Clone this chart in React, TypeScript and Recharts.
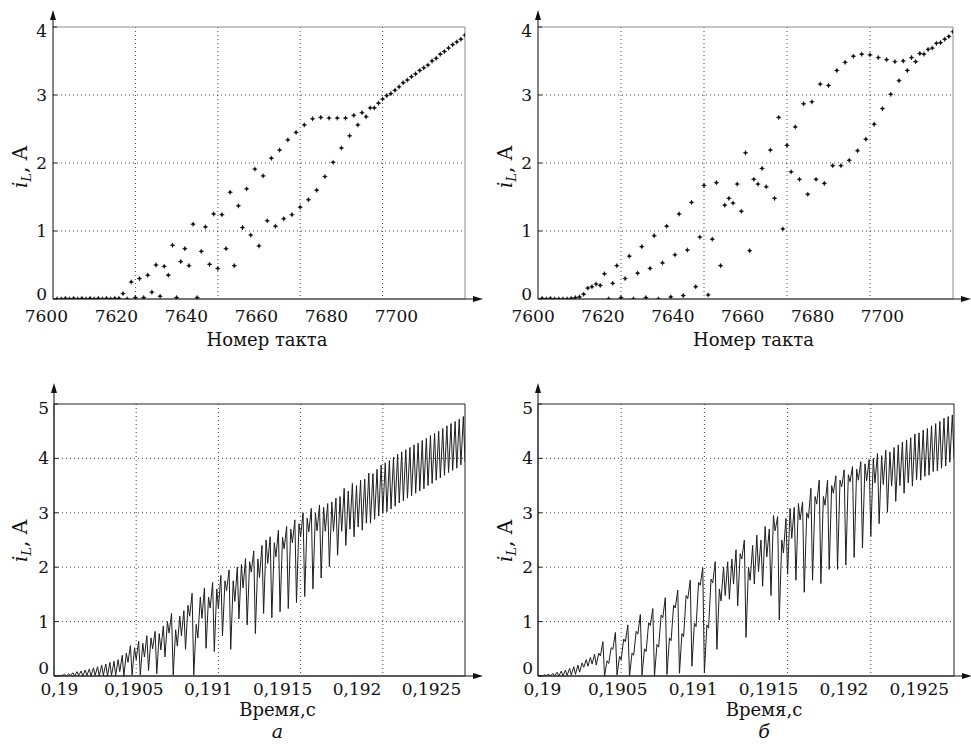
import React from "react";
import {
  ScatterChart,
  Scatter,
  LineChart,
  Line,
  XAxis,
  YAxis,
  CartesianGrid,
  ReferenceArea,
} from "recharts";

const FONT = '"DejaVu Serif", "Liberation Serif", serif';
const INK = "#111";

// tick labels as printed on the figure
const tactLabels = [7600, 7620, 7640, 7660, 7680, 7700];
const timeLabels = [0.19, 0.1905, 0.191, 0.1915, 0.192, 0.1925];
// grid lines sit every 20 tacts (they do not line up with the printed labels)
const gridTicks = [20, 40, 60, 80];
const topCurrentTicks = [0, 1, 2, 3, 4];
const bottomCurrentTicks = [0, 1, 2, 3, 4, 5];

// inductor current sampled once per tact, tacts 1..100 (panel a)
const samplesA = [
  0, 0, 0.01, 0, 0.01, 0, 0.01, 0, 0.01, 0, 0.01, 0, 0.01, 0, 0.01, 0.01,
  0.08, 0, 0.25, 0.02, 0.3, 0.02, 0.35, 0.1, 0.5, 0.04, 0.48, 0.35, 0.79, 0.02,
  0.55, 0.74, 0.49, 1.1, 0.02, 0.7, 1.06, 0.51, 1.25, 0.45,
  1.24, 0.74, 1.57, 0.49, 1.37, 1.05, 1.62, 0.94, 1.91, 0.78,
  1.81, 1.15, 2.07, 1.07, 2.19, 1.18, 2.34, 1.24, 2.45, 1.35,
  2.56, 1.46, 2.65, 1.6, 2.67, 1.8, 2.66, 2.01, 2.66, 2.22,
  2.66, 2.4, 2.7, 2.56, 2.74, 2.68, 2.81, 2.81, 2.88, 2.94,
  2.99, 3.02, 3.07, 3.12, 3.18, 3.22, 3.27, 3.31, 3.36, 3.4,
  3.44, 3.5, 3.54, 3.6, 3.64, 3.69, 3.74, 3.78, 3.82, 3.88,
];

// same for panel б
const samplesB = [
  0.01, 0, 0.01, 0, 0, 0, 0, 0.01, 0.02, 0.03,
  0.07, 0.16, 0.18, 0.22, 0.2, 0.37, 0, 0.23, 0.49, 0.02,
  0.3, 0.63, 0, 0.38, 0.77, 0.02, 0.45, 0.93, 0, 0.53,
  1.07, 0.03, 0.65, 1.25, 0.05, 0.72, 1.42, 0.18, 0.91, 1.67,
  0.06, 0.88, 1.71, 0.49, 1.38, 1.48, 1.41, 1.69, 1.29, 2.15,
  0.71, 1.76, 1.69, 1.92, 1.65, 2.19, 1.48, 2.67, 1.03, 2.26,
  1.87, 2.53, 1.76, 2.87, 1.54, 2.9, 1.76, 3.16, 1.7, 3.14,
  1.96, 3.36, 1.96, 3.48, 2.04, 3.57, 2.18, 3.6, 2.35, 3.59,
  2.57, 3.55, 2.8, 3.52, 3.01, 3.49, 3.21, 3.5, 3.36, 3.55,
  3.49, 3.61, 3.6, 3.67, 3.69, 3.76, 3.77, 3.82, 3.86, 3.93,
];

// peak current inside each tact on the time traces (the valleys are the samples above)
const peaksA = [
  0, 0.01, 0.03, 0.04, 0.06, 0.08, 0.09, 0.11, 0.13, 0.15,
  0.17, 0.2, 0.22, 0.25, 0.27, 0.3, 0.38, 0.42, 0.56, 0.52,
  0.64, 0.6, 0.74, 0.7, 0.82, 0.78, 0.92, 1.0, 1.15, 0.85,
  1.1, 1.2, 1.3, 1.52, 0.95, 1.45, 1.62, 1.45, 1.72, 1.6,
  1.85, 1.75, 1.95, 1.75, 2.0, 2.05, 2.16, 2.1, 2.3, 2.15,
  2.4, 2.5, 2.56, 2.45, 2.68, 2.55, 2.75, 2.7, 2.87, 2.8,
  3.0, 2.9, 3.08, 3.0, 3.14, 3.1, 3.17, 3.2, 3.27, 3.3,
  3.45, 3.4, 3.54, 3.5, 3.6, 3.62, 3.73, 3.72, 3.8, 3.88,
  3.92, 3.96, 4.02, 4.08, 4.12, 4.16, 4.2, 4.25, 4.28, 4.33,
  4.37, 4.42, 4.46, 4.5, 4.55, 4.6, 4.64, 4.68, 4.72, 4.77,
];

const peaksB = [
  0.01, 0.02, 0.03, 0.05, 0.07, 0.09, 0.11, 0.14, 0.17, 0.2,
  0.24, 0.3, 0.34, 0.4, 0.42, 0.63, 0.28, 0.52, 0.8, 0.36,
  0.68, 0.94, 0.42, 0.82, 1.13, 0.5, 0.98, 1.24, 0.58, 1.12,
  1.44, 0.7, 1.3, 1.58, 0.78, 1.48, 1.76, 0.97, 1.72, 1.99,
  0.94, 1.78, 2.1, 1.6, 2.0, 2.1, 2.15, 2.32, 2.25, 2.5,
  2.0, 2.4, 2.59, 2.5, 2.75, 2.7, 2.95, 2.93, 2.5, 2.9,
  3.08, 3.1, 3.17, 3.2, 3.0, 3.45, 3.3, 3.6, 3.3, 3.6,
  3.5, 3.68, 3.6, 3.79, 3.7, 3.85, 3.8, 3.94, 3.9, 3.98,
  4.0, 4.09, 4.05, 4.15, 4.12, 4.2, 4.25, 4.3, 4.34, 4.38,
  4.45, 4.47, 4.52, 4.55, 4.6, 4.64, 4.68, 4.74, 4.77, 4.8,
];

const lastValleyA = 3.93;
const lastValleyB = 4.0;
const PEAK_AT = 0.6; // where in the tact the switch turns off

const fmtTime = (v: number) => String(v).replace(".", ",");

// the printed labels follow their own linear scale across the plot width;
// map a label value into the 0..100 tact axis
const toTact = (v: number, dom: number[]) => ((v - dom[0]) * 100) / (dom[1] - dom[0]);

function Mark(props: any) {
  const { cx, cy } = props;
  if (cx == null || cy == null) return null;
  return (
    <g>
      <circle cx={cx} cy={cy} r={1.4} fill={INK} />
      <path d={`M${cx - 2.4},${cy}h4.8M${cx},${cy - 2.4}v4.8`} stroke={INK} strokeWidth={0.9} />
    </g>
  );
}

function YTick(props: any) {
  const { x, y, payload, max, low } = props;
  const v = payload.value;
  const nudge = v === 0 ? -low : v === max ? 4 : 0;
  return (
    <text x={x} y={y + nudge} dy="0.35em" textAnchor="end" fontFamily={FONT} fontSize={17} fill={INK}>
      {v}
    </text>
  );
}

function XTick(props: any) {
  const { x, y, index, texts } = props;
  return (
    <text x={x} y={y} dy="0.71em" textAnchor="middle" fontFamily={FONT} fontSize={17} fill={INK}>
      {texts[index]}
    </text>
  );
}

function YDecor(props: any) {
  const { viewBox, arrowLen, dy } = props;
  const { x, y, width, height } = viewBox;
  const ax = x + width;
  const tip = y - arrowLen;
  const cx = x + 20;
  const cy = y + height / 2 + dy;
  return (
    <g>
      <line x1={ax} y1={y} x2={ax} y2={tip + 8} stroke={INK} />
      <path d={`M${ax - 3},${tip + 10}L${ax},${tip}L${ax + 3},${tip + 10}Z`} fill={INK} />
      <text
        x={cx}
        y={cy}
        dy="0.35em"
        transform={`rotate(-90 ${cx} ${cy})`}
        textAnchor="middle"
        fontFamily={FONT}
        fontSize={20}
        fill={INK}
      >
        <tspan fontStyle="italic">i</tspan>
        <tspan fontStyle="italic" fontSize={13} dy={4}>L</tspan>
        <tspan dy={-4}>,{"\u00A0"}A</tspan>
      </text>
    </g>
  );
}

function XDecor(props: any) {
  const { viewBox, title, letter, titleDx, titleDy, letterDy } = props;
  const { x, y, width } = viewBox;
  const end = x + width;
  const tip = end + 18;
  const cx = x + width / 2 + titleDx;
  return (
    <g>
      <line x1={end} y1={y} x2={tip - 8} y2={y} stroke={INK} />
      <path d={`M${tip - 10},${y - 3}L${tip},${y}L${tip - 10},${y + 3}Z`} fill={INK} />
      <text x={cx} y={y + titleDy} dy="0.35em" textAnchor="middle" fontFamily={FONT} fontSize={18} fill={INK}>
        {title}
      </text>
      {letter && (
        <text
          x={cx}
          y={y + letterDy}
          dy="0.35em"
          textAnchor="middle"
          fontFamily={FONT}
          fontStyle="italic"
          fontSize={19}
          fill={INK}
        >
          {letter}
        </text>
      )}
    </g>
  );
}

function TopPanel({ left, width, marginRight, samples, labelDomain }: any) {
  const data = samples.map((y: number, i: number) => ({ x: i + 1, y }));
  const labelTicks = tactLabels.map((v) => toTact(v, labelDomain));
  const labelTexts = tactLabels.map(String);
  return (
    <div style={{ position: "absolute", left, top: 0 }}>
      <ScatterChart width={width} height={372} margin={{ top: 27, right: marginRight, bottom: 43, left: 0 }}>
        <CartesianGrid stroke="#444" strokeDasharray="1 3" verticalValues={gridTicks} horizontalValues={[1, 2, 3]} />
        <XAxis
          type="number"
          dataKey="x"
          domain={[0, 100]}
          ticks={labelTicks}
          allowDataOverflow
          interval={0}
          height={30}
          axisLine={{ stroke: "#222" }}
          tickLine={false}
          tickSize={0}
          tickMargin={11}
          tick={<XTick texts={labelTexts} />}
          label={(p: any) => <XDecor {...p} title="Номер такта" titleDx={8} titleDy={41} />}
        />
        <YAxis
          type="number"
          dataKey="y"
          domain={[0, 4]}
          ticks={topCurrentTicks}
          allowDataOverflow
          width={53}
          tickSize={-4}
          tickMargin={10}
          tickLine={{ stroke: "#222" }}
          axisLine={{ stroke: "#444" }}
          tick={<YTick max={4} low={5} />}
          label={(p: any) => <YDecor {...p} arrowLen={17} dy={4} />}
        />
        <ReferenceArea x1={0} x2={100} y1={0} y2={4} fill="none" stroke="#8a8a8a" ifOverflow="visible" />
        <Scatter data={data} shape={<Mark />} isAnimationActive={false} />
      </ScatterChart>
    </div>
  );
}

function BottomPanel({ left, width, yWidth, marginRight, samples, peaks, lastValley, labelDomain, letter }: any) {
  const data = samples
    .flatMap((s: number, i: number) => [
      { t: i, v: s },
      { t: i + PEAK_AT, v: peaks[i] },
    ])
    .concat([{ t: samples.length, v: lastValley }]);
  const labelTicks = timeLabels.map((v) => toTact(v, labelDomain));
  const labelTexts = timeLabels.map(fmtTime);
  return (
    <div style={{ position: "absolute", left, top: 372 }}>
      <LineChart width={width} height={372} data={data} margin={{ top: 32, right: marginRight, bottom: 38, left: 0 }}>
        <CartesianGrid stroke="#444" strokeDasharray="1 3" verticalValues={gridTicks} horizontalValues={[1, 2, 3, 4]} />
        <XAxis
          type="number"
          dataKey="t"
          domain={[0, 100]}
          ticks={labelTicks}
          allowDataOverflow
          interval={0}
          height={30}
          axisLine={{ stroke: "#222" }}
          tickLine={false}
          tickSize={0}
          tickMargin={7}
          tick={<XTick texts={labelTexts} />}
          label={(p: any) => (
            <XDecor {...p} title="Время,с" letter={letter} titleDx={18} titleDy={34} letterDy={55} />
          )}
        />
        <YAxis
          type="number"
          domain={[0, 5]}
          ticks={bottomCurrentTicks}
          allowDataOverflow
          width={yWidth}
          tickSize={-4}
          tickMargin={9}
          tickLine={{ stroke: "#222" }}
          axisLine={{ stroke: "#222" }}
          tick={<YTick max={5} low={8} />}
          label={(p: any) => <YDecor {...p} arrowLen={21} dy={1} />}
        />
        <ReferenceArea x1={0} x2={100} y1={0} y2={5} fill="none" stroke="#222" ifOverflow="visible" />
        <Line type="linear" dataKey="v" stroke="#1e1e1e" strokeWidth={1} dot={false} isAnimationActive={false} />
      </LineChart>
    </div>
  );
}

export default function App() {
  return (
    <div style={{ position: "absolute", left: 0, top: 0, width: 971, height: 744, background: "#fff" }}>
      <TopPanel left={0} width={485} marginRight={20} samples={samplesA} labelDomain={[7601.9, 7719.6]} />
      <TopPanel left={485} width={486} marginRight={18} samples={samplesB} labelDomain={[7601.4, 7720.2]} />
      <BottomPanel
        left={0}
        width={485}
        yWidth={54}
        marginRight={20}
        samples={samplesA}
        peaks={peaksA}
        lastValley={lastValleyA}
        labelDomain={[0.189964, 0.192725]}
        letter="а"
      />
      <BottomPanel
        left={485}
        width={486}
        yWidth={53}
        marginRight={17}
        samples={samplesB}
        peaks={peaksB}
        lastValley={lastValleyB}
        labelDomain={[0.189971, 0.19273]}
        letter="б"
      />
    </div>
  );
}
